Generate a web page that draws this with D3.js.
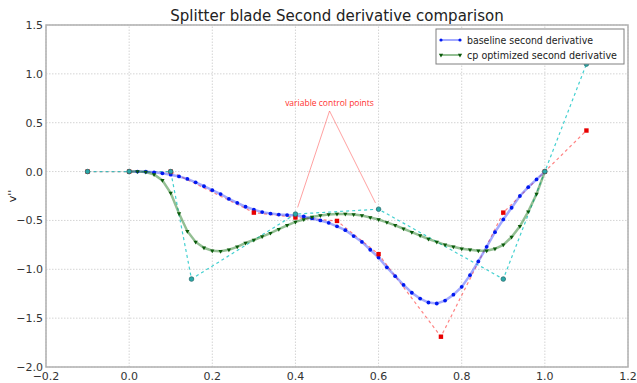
<!DOCTYPE html>
<html>
<head>
<meta charset="utf-8">
<script src="https://cdn.jsdelivr.net/npm/d3@7"></script>
<style>
  body { margin: 0; background: #fff; }
  svg { display: block; font-family: "DejaVu Sans", sans-serif; }
  .grid line { stroke: #d4d4d4; stroke-dasharray: 1.5,1.5; }
  .tick-label { fill: #333; font-size: 11px; }
</style>
</head>
<body>
<svg id="chart" width="637" height="383"></svg>
<script>
// u sampled every 0.02 from 0 to 1
var uValues = d3.range(51).map(function(i) { return i / 50; });

var baselineV = [
    0, 0, -0.002, -0.008, -0.018, -0.032, -0.05, -0.075, -0.11, -0.15,
    -0.19, -0.23, -0.28, -0.32, -0.36, -0.39, -0.415, -0.43, -0.44, -0.445,
    -0.45, -0.46, -0.48, -0.50, -0.525, -0.56, -0.60, -0.66, -0.72, -0.80,
    -0.88, -0.98, -1.07, -1.16, -1.24, -1.30, -1.34, -1.35, -1.32, -1.26,
    -1.18, -1.06, -0.92, -0.77, -0.62, -0.49, -0.37, -0.25, -0.16, -0.08,
    0
];

var optimizedV = [
    0, 0, -0.005, -0.03, -0.09, -0.22, -0.43, -0.61, -0.72, -0.78,
    -0.81, -0.815, -0.80, -0.77, -0.73, -0.70, -0.665, -0.63, -0.59, -0.55,
    -0.515, -0.49, -0.465, -0.45, -0.44, -0.435, -0.435, -0.44, -0.45, -0.47,
    -0.49, -0.52, -0.55, -0.585, -0.62, -0.655, -0.69, -0.72, -0.75, -0.77,
    -0.79, -0.80, -0.81, -0.81, -0.79, -0.75, -0.67, -0.56, -0.41, -0.23,
    0
];

var baselineCpU = [-0.1, 0, 0.1, 0.3, 0.4, 0.5, 0.6, 0.75, 0.9, 1.0, 1.1];
var baselineCpV = [0, 0, 0, -0.42, -0.47, -0.505, -0.845, -1.69, -0.42, 0, 0.42];

var optimizedCpU = [-0.1, 0, 0.1, 0.15, 0.4, 0.6, 0.9, 1.0, 1.1];
var optimizedCpV = [0, 0, 0, -1.1, -0.435, -0.385, -1.1, 0, 1.1];

// annotation: text position and the two control points it points at
var noteText = "variable control points";
var notePos = [0.482, 0.62];
var noteTargets = [[0.4, -0.435], [0.6, -0.385]];

var xTicks = [-0.2, 0.0, 0.2, 0.4, 0.6, 0.8, 1.0, 1.2];
var yTicks = [-2.0, -1.5, -1.0, -0.5, 0.0, 0.5, 1.0, 1.5];

var legendLabels = ["baseline second derivative", "cp optimized second derivative"];

var margin = { left: 46, right: 9, top: 25, bottom: 16 };
var W = 637, H = 383;
var svg = d3.select("#chart");

var x = d3.scaleLinear().domain([-0.2, 1.2]).range([margin.left, W - margin.right]);
var y = d3.scaleLinear().domain([-2.0, 1.5]).range([H - margin.bottom, margin.top]);

function zip(us, vs) {
    return us.map(function(u, i) { return [u, vs[i]]; });
}

var fmt = function(d) { return d3.format(".1f")(d).replace("-", "\u2212"); };

// grid
var grid = svg.append("g").attr("class", "grid");
grid.selectAll(".gx").data(xTicks).enter().append("line")
    .attr("x1", function(d) { return x(d); }).attr("x2", function(d) { return x(d); })
    .attr("y1", y(-2)).attr("y2", y(1.5));
grid.selectAll(".gy").data(yTicks).enter().append("line")
    .attr("x1", x(-0.2)).attr("x2", x(1.2))
    .attr("y1", function(d) { return y(d); }).attr("y2", function(d) { return y(d); });

var line = d3.line().x(function(d) { return x(d[0]); }).y(function(d) { return y(d[1]); });

var plot = svg.append("g");

// control polygons
plot.append("path").datum(zip(baselineCpU, baselineCpV))
    .attr("d", line).attr("fill", "none")
    .attr("stroke", "#ff4040").attr("stroke-opacity", 0.65)
    .attr("stroke-width", 1.2).attr("stroke-dasharray", "3,3");
plot.append("path").datum(zip(optimizedCpU, optimizedCpV))
    .attr("d", line).attr("fill", "none")
    .attr("stroke", "#22c8c8").attr("stroke-opacity", 0.85)
    .attr("stroke-width", 1.2).attr("stroke-dasharray", "3,3");

// curves
var blue = zip(uValues, baselineV);
var green = zip(uValues, optimizedV);

plot.append("path").datum(blue).attr("d", line).attr("fill", "none")
    .attr("stroke", "#3040ff").attr("stroke-opacity", 0.45).attr("stroke-width", 2.5);
plot.append("path").datum(green).attr("d", line).attr("fill", "none")
    .attr("stroke", "#107010").attr("stroke-opacity", 0.45).attr("stroke-width", 2.5);

plot.selectAll(".bm").data(blue).enter().append("circle")
    .attr("cx", function(d) { return x(d[0]); }).attr("cy", function(d) { return y(d[1]); })
    .attr("r", 1.9).attr("fill", "#0018f0");

var tri = d3.symbol().type(d3.symbolTriangle).size(8);
plot.selectAll(".gm").data(green).enter().append("path")
    .attr("d", tri)
    .attr("transform", function(d) { return "translate(" + x(d[0]) + "," + y(d[1]) + ") rotate(180)"; })
    .attr("fill", "#0a5a0a");

// control point markers
plot.selectAll(".rm").data(zip(baselineCpU, baselineCpV)).enter().append("rect")
    .attr("x", function(d) { return x(d[0]) - 2.2; }).attr("y", function(d) { return y(d[1]) - 2.2; })
    .attr("width", 4.4).attr("height", 4.4).attr("fill", "#e80000");
plot.selectAll(".tm").data(zip(optimizedCpU, optimizedCpV)).enter().append("circle")
    .attr("cx", function(d) { return x(d[0]); }).attr("cy", function(d) { return y(d[1]); })
    .attr("r", 2.3).attr("fill", "#2aa8a8").attr("stroke", "#2a7070").attr("stroke-width", 0.8);

// annotation
noteTargets.forEach(function(t) {
    var x0 = x(notePos[0]), y0 = y(notePos[1]);
    var x1 = x(t[0]), y1 = y(t[1]);
    var dx = x1 - x0, dy = y1 - y0, len = Math.sqrt(dx * dx + dy * dy);
    svg.append("line")
        .attr("x1", x0).attr("y1", y0)
        .attr("x2", x1 - dx / len * 7).attr("y2", y1 - dy / len * 7)
        .attr("stroke", "#ff5050").attr("stroke-opacity", 0.6).attr("stroke-width", 0.9);
});
svg.append("text")
    .attr("x", x(notePos[0])).attr("y", y(notePos[1]) - 5)
    .attr("text-anchor", "middle")
    .attr("font-size", "8.5px").attr("fill", "#ff3030")
    .attr("font-family", "'Open Sans', sans-serif")
    .text(noteText);

// frame
svg.append("rect")
    .attr("x", x(-0.2)).attr("y", y(1.5))
    .attr("width", x(1.2) - x(-0.2)).attr("height", y(-2) - y(1.5))
    .attr("fill", "none").attr("stroke", "#b0b0b0").attr("stroke-width", 1.5);

// tick labels
svg.selectAll(".xt").data(xTicks).enter().append("text")
    .attr("class", "tick-label")
    .attr("x", function(d) { return x(d); }).attr("y", y(-2) + 13)
    .attr("text-anchor", "middle").text(fmt);
svg.selectAll(".yt").data(yTicks).enter().append("text")
    .attr("class", "tick-label")
    .attr("x", x(-0.2) - 3).attr("y", function(d) { return y(d) + 4; })
    .attr("text-anchor", "end").text(fmt);

// titles
svg.append("text").attr("x", 337).attr("y", 21).attr("text-anchor", "middle")
    .attr("font-size", "15px").attr("fill", "#222").text("Splitter blade Second derivative comparison");
svg.append("text").attr("x", 334).attr("y", 389).attr("text-anchor", "middle")
    .attr("font-size", "11px").attr("fill", "#222").text("u");
svg.append("text").attr("transform", "translate(16,196) rotate(-90)")
    .attr("text-anchor", "middle").attr("font-size", "11px").attr("fill", "#222").text("v''");

// legend
var lg = svg.append("g").attr("transform", "translate(436,29)");
lg.append("rect").attr("width", 188).attr("height", 35)
    .attr("fill", "#fff").attr("stroke", "#808080").attr("stroke-width", 1);
var legendColors = [["#3040ff", "#0018f0"], ["#107010", "#0a5a0a"]];
legendLabels.forEach(function(label, i) {
    var yy = 11 + i * 15;
    lg.append("line").attr("x1", 5).attr("x2", 24).attr("y1", yy).attr("y2", yy)
        .attr("stroke", legendColors[i][0]).attr("stroke-opacity", 0.6).attr("stroke-width", 1.5);
    [5, 24].forEach(function(px) {
        if (i === 0) {
            lg.append("circle").attr("cx", px).attr("cy", yy).attr("r", 1.6).attr("fill", legendColors[i][1]);
        } else {
            lg.append("path").attr("d", tri)
                .attr("transform", "translate(" + px + "," + yy + ") rotate(180)")
                .attr("fill", legendColors[i][1]);
        }
    });
    lg.append("text").attr("x", 31).attr("y", yy + 3.5)
        .attr("font-size", "10px").attr("fill", "#222")
        .attr("textLength", i === 0 ? 126 : 150).attr("lengthAdjust", "spacingAndGlyphs")
        .text(label);
});
</script>
</body>
</html>
